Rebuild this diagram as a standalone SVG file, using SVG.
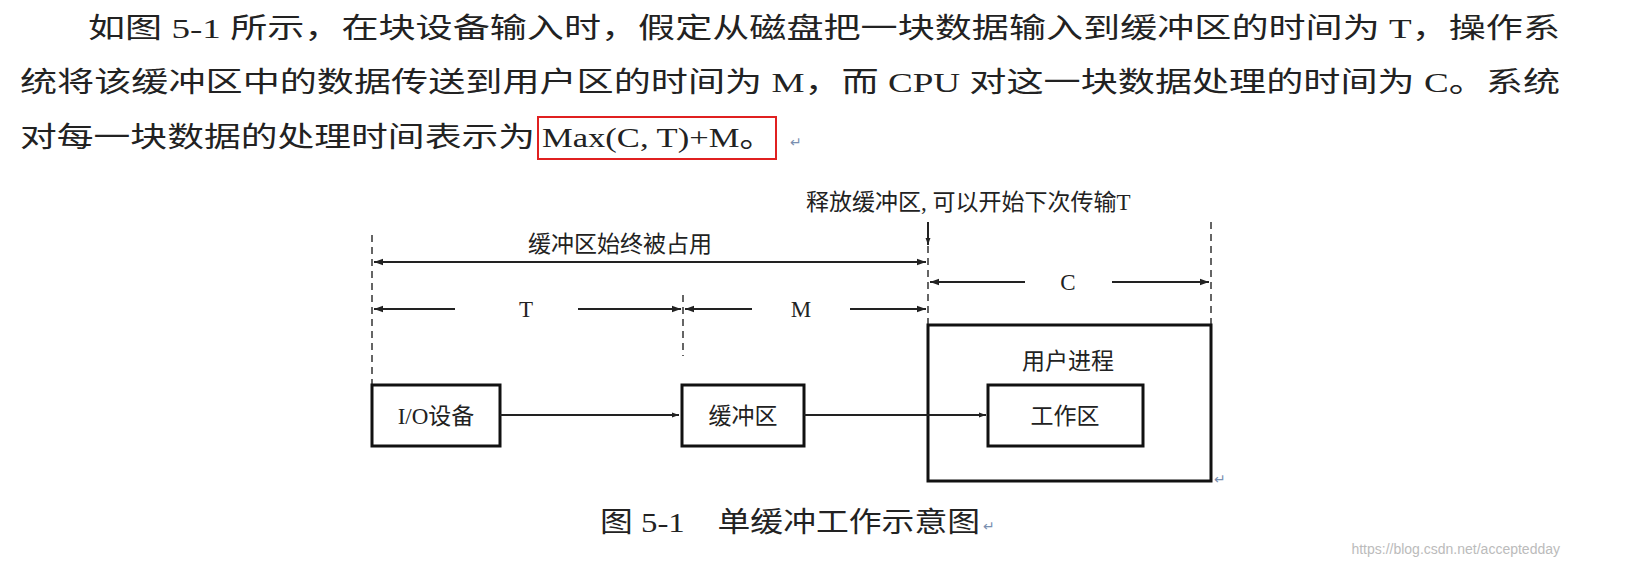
<svg xmlns="http://www.w3.org/2000/svg" width="1645" height="566" viewBox="0 0 1645 566">
<defs>
<style>
.p{font-family:"Liberation Serif","Noto Sans CJK SC",serif;font-size:28px;fill:#222}
.d{font-family:"Liberation Serif","Noto Sans CJK SC",serif;font-size:23px;fill:#222}
.b{fill:#fff;stroke:#111;stroke-width:3}
.l{stroke:#222;stroke-width:2;fill:none}
.dash{stroke:#333;stroke-width:1.5;stroke-dasharray:7,5;fill:none}
.rm{font-family:"DejaVu Sans",sans-serif;font-size:14px;fill:#7a8fb0}
</style>
<marker id="a" viewBox="0 0 10 10" refX="10" refY="5" markerWidth="7" markerHeight="7" orient="auto-start-reverse" markerUnits="userSpaceOnUse"><path d="M0,1.5L10,5L0,8.5z" fill="#222"/></marker>
<marker id="ab" viewBox="0 0 10 10" refX="10" refY="5" markerWidth="12" markerHeight="9" orient="auto-start-reverse" markerUnits="userSpaceOnUse"><path d="M0,1.5L10,5L0,8.5z" fill="#222"/></marker>
</defs>
<rect width="1645" height="566" fill="#fff"/>
<g id="text">
<text class="p" x="88" y="38" textLength="1472" lengthAdjust="spacingAndGlyphs">如图 5-1 所示，在块设备输入时，假定从磁盘把一块数据输入到缓冲区的时间为 T，操作系</text>
<text class="p" x="20" y="92" textLength="1540" lengthAdjust="spacingAndGlyphs">统将该缓冲区中的数据传送到用户区的时间为 M，而 CPU 对这一块数据处理的时间为 C。系统</text>
<text class="p" x="20" y="147" textLength="515" lengthAdjust="spacingAndGlyphs">对每一块数据的处理时间表示为</text>
<text class="p" x="542" y="147" textLength="232" lengthAdjust="spacingAndGlyphs">Max(C, T)+M。</text>
<text class="rm" x="790" y="147">↵</text>
<rect x="538" y="117" width="238" height="42" fill="none" stroke="#e02020" stroke-width="2"/>
</g>
<g id="guides">
<line class="dash" x1="372" y1="235" x2="372" y2="384"/>
<line class="dash" x1="683" y1="295" x2="683" y2="356"/>
<line class="dash" x1="928" y1="222" x2="928" y2="325"/>
<line class="dash" x1="1211" y1="222" x2="1211" y2="325"/>
</g>
<g id="user">
<rect class="b" x="928" y="325" width="283" height="156"/>
<text class="d" x="1068" y="369" text-anchor="middle">用户进程</text>
<text class="rm" x="1214" y="484">↵</text>
</g>
<g id="io"><rect class="b" x="372" y="385" width="128" height="61"/><text class="d" x="436" y="424" text-anchor="middle">I/O设备</text></g>
<g id="buf"><rect class="b" x="682" y="385" width="122" height="61"/><text class="d" x="743" y="424" text-anchor="middle">缓冲区</text></g>
<g id="work"><rect class="b" x="988" y="385" width="155" height="61"/><text class="d" x="1065" y="424" text-anchor="middle">工作区</text></g>
<g id="connectors">
<line class="l" x1="928" y1="222" x2="928" y2="245" marker-end="url(#a)"/>
<line class="l" x1="374" y1="262" x2="926" y2="262" marker-start="url(#ab)" marker-end="url(#ab)" stroke-width="2.5"/>
<line class="l" x1="374" y1="309" x2="455" y2="309" marker-start="url(#ab)" stroke-width="2.5"/>
<line class="l" x1="578" y1="309" x2="681" y2="309" marker-end="url(#ab)" stroke-width="2.5"/>
<line class="l" x1="685" y1="309" x2="752" y2="309" marker-start="url(#ab)" stroke-width="2.5"/>
<line class="l" x1="850" y1="309" x2="926" y2="309" marker-end="url(#ab)" stroke-width="2.5"/>
<line class="l" x1="930" y1="282" x2="1025" y2="282" marker-start="url(#ab)" stroke-width="2.5"/>
<line class="l" x1="1112" y1="282" x2="1209" y2="282" marker-end="url(#ab)" stroke-width="2.5"/>
<line class="l" x1="500" y1="415" x2="679" y2="415" marker-end="url(#a)"/>
<line class="l" x1="804" y1="415" x2="986" y2="415" marker-end="url(#a)"/>
</g>
<g id="labels">
<text class="d" x="806" y="210">释放缓冲区, 可以开始下次传输T</text>
<text class="d" x="620" y="252" text-anchor="middle">缓冲区始终被占用</text>
<text class="d" x="526" y="317" text-anchor="middle">T</text>
<text class="d" x="801" y="317" text-anchor="middle">M</text>
<text class="d" x="1068" y="290" text-anchor="middle">C</text>
</g>
<g id="caption">
<text class="d" x="600" y="532" style="font-size:28px" textLength="380" lengthAdjust="spacingAndGlyphs">图 5-1　单缓冲工作示意图</text>
<text class="rm" x="983" y="531">↵</text>
<text x="1560" y="554" text-anchor="end" style="font-family:'Liberation Sans',sans-serif;font-size:14px;fill:#bbb">https://blog.csdn.net/acceptedday</text>
</g>
</svg>
